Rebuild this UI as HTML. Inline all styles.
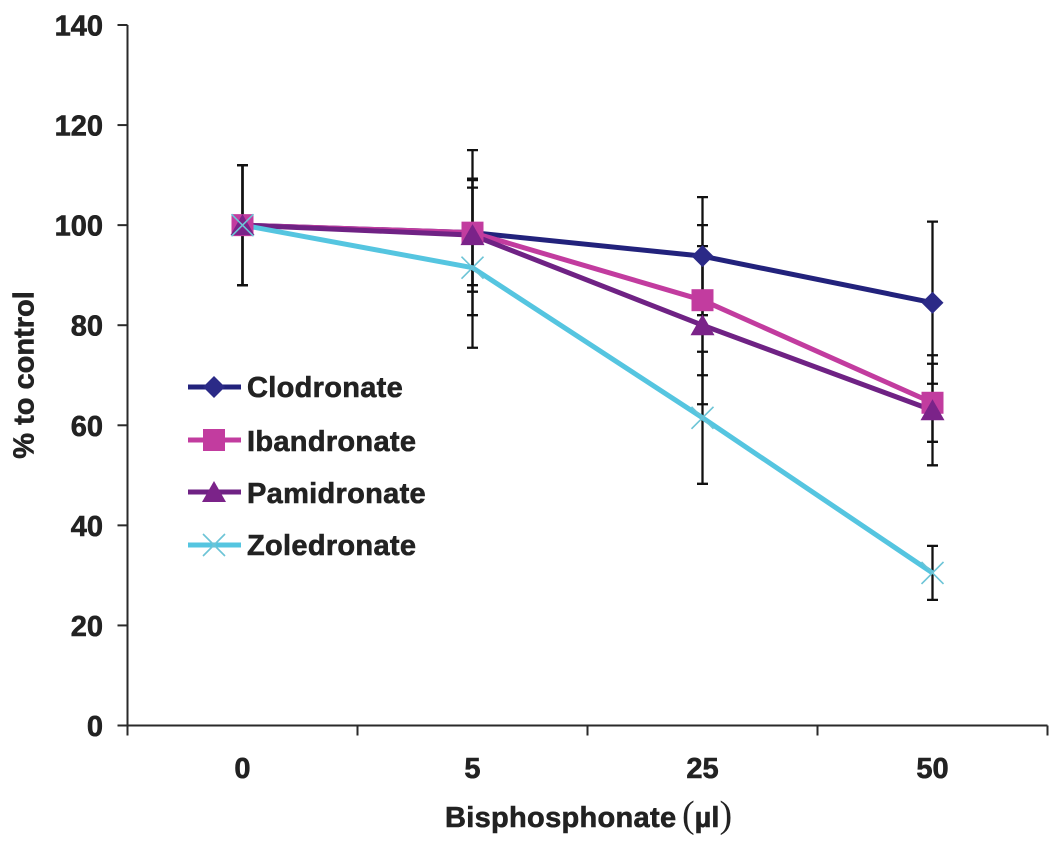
<!DOCTYPE html>
<html lang="en">
<head>
<meta charset="utf-8">
<title>Bisphosphonate dose response</title>
<style>
html,body{margin:0;padding:0;background:#fff;width:1063px;height:843px;overflow:hidden}
svg{display:block}
text{font-family:"Liberation Sans",sans-serif;font-weight:bold;fill:#222;stroke:#222;stroke-width:.6px;font-size:29px}
.wide{letter-spacing:.3px}
</style>
</head>
<body>
<svg id="chart" width="1063" height="843" viewBox="0 0 1063 843" xmlns="http://www.w3.org/2000/svg">
  <g id="axes"></g>
  <g id="error-bars"></g>
  <g id="series"></g>
  <g id="legend"></g>
  <text transform="translate(33.5 375) rotate(-90)" text-anchor="middle">% to control</text>
  <text class="wide" x="445" y="827">Bisphosphonate</text>
  <text x="682" y="827"><tspan style="font-family:'Liberation Serif',serif;font-weight:normal;font-size:38px;stroke-width:0">(</tspan><tspan>µl</tspan><tspan style="font-family:'Liberation Serif',serif;font-weight:normal;font-size:38px;stroke-width:0">)</tspan></text>
</svg>
<script>
const categories = ['0', '5', '25', '50'];
const yTicks = [0, 20, 40, 60, 80, 100, 120, 140];
const seriesNames = ['Clodronate', 'Ibandronate', 'Pamidronate', 'Zoledronate'];
const clodronate = [100, 98.5, 93.8, 84.5];
const ibandronate = [100, 98.5, 85, 64.5];
const pamidronate = [100, 98, 80, 63];
const zoledronate = [100, 91.5, 61.5, 30.5];
const clodronateErr = [12, 16.5, 11.8, 16.2];
const ibandronateErr = [12, 10.5, 15, 7.8];
const pamidronateErr = [12, 11.3, 15.8, 11];
const zoledronateErr = [12, 16, 13.2, 5.4];

const svgNS = 'http://www.w3.org/2000/svg';
const plotLeft = 127.5, plotRight = 1047.5, plotBottom = 725.5, plotTop = 25;
const yMax = 140;
function xBand() { return (plotRight - plotLeft) / categories.length; }
function xScale(i) { return plotLeft + xBand() * (i + 0.5); }
function yScale(v) { return plotBottom - (v / yMax) * (plotBottom - plotTop); }
function make(tag, parent, attrs) {
  const el = document.createElementNS(svgNS, tag);
  for (const k in attrs) el.setAttribute(k, attrs[k]);
  parent.appendChild(el);
  return el;
}
const axes = document.getElementById('axes');
const errG = document.getElementById('error-bars');
const seriesG = document.getElementById('series');
const legendG = document.getElementById('legend');
const AXIS = '#2a2a2a';

const yAxisLine = make('line', axes, {x1: plotLeft, x2: plotLeft, y1: plotTop, y2: plotBottom, stroke: AXIS, 'stroke-width': 2});


const xAxisLine = make('line', axes, {x1: plotLeft, x2: plotRight, y1: plotBottom, y2: plotBottom, stroke: AXIS, 'stroke-width': 2});



yTicks.forEach(function (t) {
  const y = yScale(t);
  const tick = make('line', axes, {x1: plotLeft - 10, x2: plotLeft, y1: y, y2: y, stroke: AXIS, 'stroke-width': 2});
  
  
  const label = make('text', axes, {x: 103, y: y + 10.5, 'text-anchor': 'end'});
  
  
  label.textContent = t;
});
for (let i = 0; i <= categories.length; i++) {
  const x = plotLeft + xBand() * i;
  const tick = make('line', axes, {x1: x, x2: x, y1: plotBottom, y2: plotBottom + 10, stroke: AXIS, 'stroke-width': 2});
  
  
}
categories.forEach(function (c, i) {
  const label = make('text', axes, {x: xScale(i), y: 778, 'text-anchor': 'middle'});
  
  
  label.textContent = c;
});

function marker(kind, parent, cx, cy, color) {
  let el;
  if (kind === 'diamond') {
    el = make('polygon', parent, {points: [cx, cy - 11, cx + 11, cy, cx, cy + 11, cx - 11, cy].join(' '), fill: color});
  } else if (kind === 'square') {
    el = make('rect', parent, {x: cx - 11, y: cy - 11, width: 22, height: 22, fill: color});
  } else if (kind === 'triangle') {
    el = make('polygon', parent, {points: [cx, cy - 11, cx + 12, cy + 10, cx - 12, cy + 10].join(' '), fill: color});
  } else {
    el = make('path', parent, {d: 'M' + (cx - 11) + ' ' + (cy - 11) + 'L' + (cx + 11) + ' ' + (cy + 11) + 'M' + (cx - 11) + ' ' + (cy + 11) + 'L' + (cx + 11) + ' ' + (cy - 11), stroke: '#6cc4d6', 'stroke-width': 1.6, fill: 'none'});
  }
  return el;
}

const styles = [
  {values: clodronate, errs: clodronateErr, color: '#2b2a87', line: '#22227c', kind: 'diamond'},
  {values: ibandronate, errs: ibandronateErr, color: '#c23c9f', line: '#c23c9f', kind: 'square'},
  {values: pamidronate, errs: pamidronateErr, color: '#7b2389', line: '#6f2284', kind: 'triangle'},
  {values: zoledronate, errs: zoledronateErr, color: '#55c5e0', line: '#55c5e0', kind: 'x'}
];

styles.forEach(function (s, si) {
  s.values.forEach(function (v, i) {
    const x = xScale(i);
    const hi = yScale(v + s.errs[i]);
    const lo = yScale(v - s.errs[i]);
    const bar = make('path', errG, {d: 'M' + x + ' ' + hi + 'V' + lo + 'M' + (x - 5.5) + ' ' + hi + 'H' + (x + 5.5) + 'M' + (x - 5.5) + ' ' + lo + 'H' + (x + 5.5), stroke: '#111', 'stroke-width': 2.3, fill: 'none'});
    
    
  });
});

styles.forEach(function (s, si) {
  const pts = s.values.map(function (v, i) { return xScale(i) + ',' + yScale(v); }).join(' ');
  const line = make('polyline', seriesG, {points: pts, fill: 'none', stroke: s.line, 'stroke-width': 5, 'stroke-linejoin': 'round'});
  
  
});
styles.forEach(function (s, si) {
  s.values.forEach(function (v, i) {
    const m = marker(s.kind, seriesG, xScale(i), yScale(v), s.color);
    
    
  });
});

const legendY = [387, 440, 492, 545];
const legendBase = [397, 451, 503, 555];
seriesNames.forEach(function (name, i) {
  const s = styles[i];
  const g = make('g', legendG, {});
  
  
  make('line', g, {x1: 188, x2: 241, y1: legendY[i], y2: legendY[i], stroke: s.line, 'stroke-width': 5});
  marker(s.kind, g, 214, legendY[i], s.color);
  const t = make('text', g, {x: 247, y: legendBase[i], 'class': 'wide'});
  t.textContent = name;
});
</script>
</body>
</html>
